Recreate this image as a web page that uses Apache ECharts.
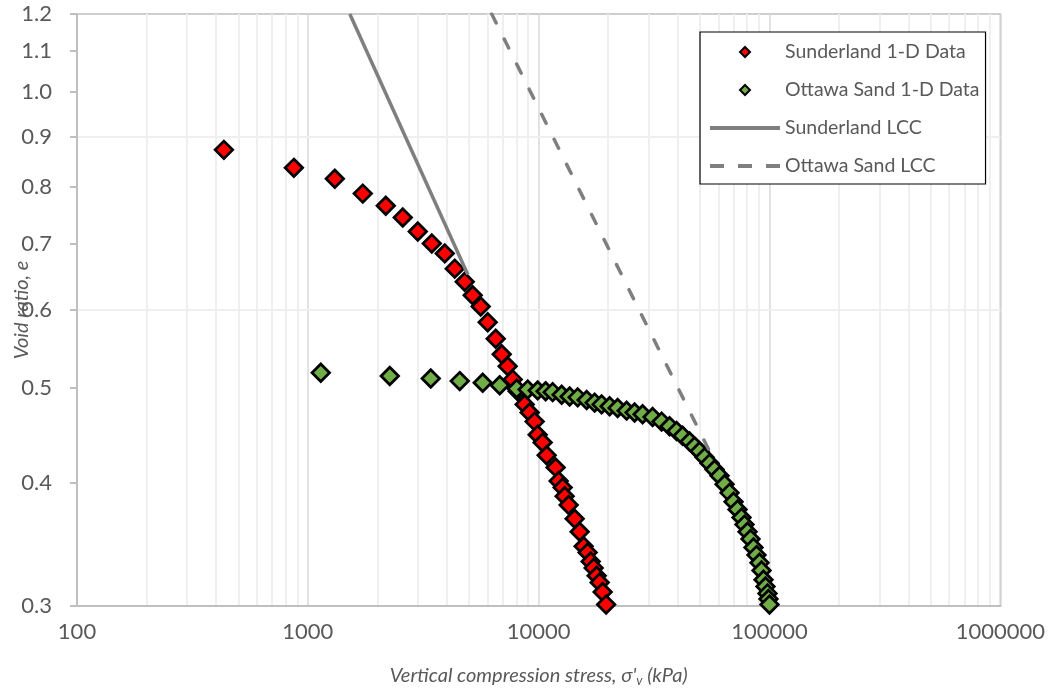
<!DOCTYPE html>
<html>
<head>
<meta charset="utf-8">
<script src="https://cdn.jsdelivr.net/npm/echarts@6/dist/echarts.min.js"></script>
<style>
  html, body { margin: 0; padding: 0; background: #fff; }
  #main { width: 1048px; height: 692px; }
</style>
</head>
<body>
<div id="main"></div>
<script>
  // Sunderland 1-D data
  var sunderlandStress = [433, 870, 1309, 1730, 2176, 2578, 2994, 3443, 3919, 4330,
    4783, 5179, 5609, 6015, 6515, 6917, 7340, 7718, 8112, 8698,
    9143, 9609, 9901, 10407, 10830, 11845, 12206, 12702, 12959, 13489,
    14318, 15049, 15660, 16297, 16797, 17308, 17835, 18378, 18937, 19600];
  var sunderlandVoid = [0.873, 0.837, 0.816, 0.788, 0.766, 0.745, 0.721, 0.701, 0.685, 0.661,
    0.641, 0.621, 0.605, 0.583, 0.561, 0.541, 0.526, 0.510, 0.496, 0.481,
    0.472, 0.462, 0.448, 0.440, 0.427, 0.415, 0.402, 0.396, 0.388, 0.380,
    0.368, 0.357, 0.345, 0.340, 0.333, 0.328, 0.322, 0.317, 0.310, 0.301];

  // Ottawa Sand 1-D data
  var ottawaStress = [1138, 2265, 3408, 4550, 5723, 6781, 8032, 8960, 9901, 10722,
    11498, 12578, 13624, 14756, 16139, 17479, 18738, 20297, 21980, 24045,
    26040, 28199, 31155, 34083, 36912, 39579, 42021, 45063, 47348, 49774,
    52314, 54990, 57803, 60757, 63869, 67136, 69860, 72695, 75648, 77950,
    80320, 82750, 85260, 87850, 90520, 92350, 94190, 96100, 98020, 99000, 100000];
  var ottawaVoid = [0.518, 0.514, 0.511, 0.508, 0.506, 0.503, 0.499, 0.498, 0.497, 0.496,
    0.495, 0.492, 0.490, 0.489, 0.486, 0.483, 0.481, 0.479, 0.477, 0.474,
    0.472, 0.470, 0.467, 0.462, 0.457, 0.452, 0.447, 0.441, 0.436, 0.431,
    0.425, 0.419, 0.413, 0.407, 0.399, 0.391, 0.383, 0.376, 0.369, 0.363,
    0.357, 0.351, 0.344, 0.338, 0.332, 0.326, 0.319, 0.314, 0.309, 0.305, 0.301];

  // limiting compression curves
  var sunderlandLccStress = [1520, 4930];
  var sunderlandLccVoid = [1.2, 0.652];
  var ottawaLccStress = [6260, 57200];
  var ottawaLccVoid = [1.2, 0.423];

  var yTicks = [0.3, 0.4, 0.5, 0.6, 0.7, 0.8, 0.9, 1.0, 1.1, 1.2];
  var yGrid = [0.6, 0.9];
  var xDecades = [100, 1000, 10000, 100000];

  function pairs(xs, ys) {
    var out = [];
    for (var i = 0; i < xs.length; i++) out.push([xs[i], ys[i]]);
    return out;
  }

  // light minor grid lines (2..9 within each decade)
  var gridLines = [];
  xDecades.forEach(function (d) {
    for (var k = 2; k <= 9; k++) gridLines.push({ xAxis: d * k });
  });
  yGrid.forEach(function (v) { gridLines.push({ yAxis: v }); });

  var txt = '#595959';
  var font = 'Lato';
  // legend icons: small diamond, solid bar, dashed bar
  var diamondIcon = 'path://M5,0L10,5L5,10L0,5Z';
  var solidIcon = 'path://M0,0L70,0L70,4L0,4Z';
  var dashIcon = 'path://M0,0L14,0L14,4L0,4Z M28,0L42,0L42,4L28,4Z M56,0L70,0L70,4L56,4Z';

  var myChart = echarts.init(document.getElementById('main'));
  var option = {
    animation: false,
    textStyle: { fontFamily: font },
    grid: {
      left: 77, right: 47, top: 14, bottom: 85,
      show: true, borderColor: '#bfbfbf', borderWidth: 1.5
    },
    legend: {
      orient: 'vertical',
      left: 700, top: 32,
      padding: [10, 6, 8, 10],
      borderColor: '#000', borderWidth: 1.2,
      backgroundColor: '#fff',
      itemWidth: 70, itemHeight: 10, itemGap: 18,
      symbolKeepAspect: true,
      textStyle: { color: txt, fontSize: 19.5, fontFamily: font },
      data: [
        { name: 'Sunderland 1-D Data', icon: diamondIcon },
        { name: 'Ottawa Sand 1-D Data', icon: diamondIcon },
        { name: 'Sunderland LCC', icon: solidIcon, itemStyle: { color: '#7f7f7f', borderWidth: 0 } },
        { name: 'Ottawa Sand LCC', icon: dashIcon, itemStyle: { color: '#7f7f7f', borderWidth: 0 } }
      ]
    },
    xAxis: {
      type: 'log', logBase: 10, min: 100, max: 1000000,
      name: "Vertical compression stress, σ'{sub|v} (kPa)",
      nameLocation: 'middle', nameGap: 58, nameMoveOverlap: false,
      nameTextStyle: {
        color: txt, fontSize: 20, fontStyle: 'italic',
        rich: { sub: { fontSize: 13, fontStyle: 'italic', color: txt, verticalAlign: 'bottom', padding: [10, 0, 0, 0] } }
      },
      axisLine: { lineStyle: { color: '#bfbfbf', width: 2 } },
      axisTick: { show: false },
      axisLabel: {
        color: txt, fontSize: 22, margin: 15,
        formatter: function (v) { return String(Math.round(v)); }
      },
      splitLine: { show: true, lineStyle: { color: '#d9d9d9', width: 1.5 } }
    },
    yAxis: {
      type: 'log', logBase: 10, min: 0.3, max: 1.2,
      name: 'Void ratio, e',
      nameLocation: 'middle', nameGap: 45, nameMoveOverlap: false,
      nameTextStyle: { color: txt, fontSize: 20, fontStyle: 'italic' },
      axisLine: { show: true, lineStyle: { color: '#bfbfbf', width: 2 } },
      axisTick: { show: true, inside: false, length: 7, customValues: yTicks, lineStyle: { color: '#bfbfbf', width: 2 } },
      axisLabel: {
        color: txt, fontSize: 22, margin: 25, customValues: yTicks,
        formatter: function (v) { return (Math.round(v * 10) / 10).toFixed(1); }
      },
      splitLine: { show: false }
    },
    series: [
      {
        name: 'grid',
        type: 'line',
        data: [],
        silent: true,
        markLine: {
          silent: true, symbol: 'none', z: 0,
          label: { show: false },
          lineStyle: { color: '#efefef', width: 2, type: 'solid' },
          emphasis: { disabled: true },
          data: gridLines
        }
      },
      {
        name: 'Sunderland 1-D Data',
        type: 'scatter',
        symbol: 'diamond', symbolSize: 17.5,
        itemStyle: { color: '#ff0000', borderColor: '#000', borderWidth: 2.75, opacity: 1 },
        data: pairs(sunderlandStress, sunderlandVoid)
      },
      {
        name: 'Ottawa Sand 1-D Data',
        type: 'scatter',
        symbol: 'diamond', symbolSize: 17.5,
        itemStyle: { color: '#70ad47', borderColor: '#000', borderWidth: 2.75, opacity: 1 },
        data: pairs(ottawaStress, ottawaVoid)
      },
      {
        name: 'Sunderland LCC',
        type: 'line',
        symbol: 'none',
        lineStyle: { color: '#7f7f7f', width: 3.5 },
        itemStyle: { color: '#7f7f7f' },
        data: pairs(sunderlandLccStress, sunderlandLccVoid)
      },
      {
        name: 'Ottawa Sand LCC',
        type: 'line',
        symbol: 'none',
        lineStyle: { color: '#7f7f7f', width: 3.5, type: [10, 18], cap: 'round' },
        itemStyle: { color: '#7f7f7f' },
        data: pairs(ottawaLccStress, ottawaLccVoid)
      }
    ]
  };
  myChart.setOption(option);
</script>
</body>
</html>
